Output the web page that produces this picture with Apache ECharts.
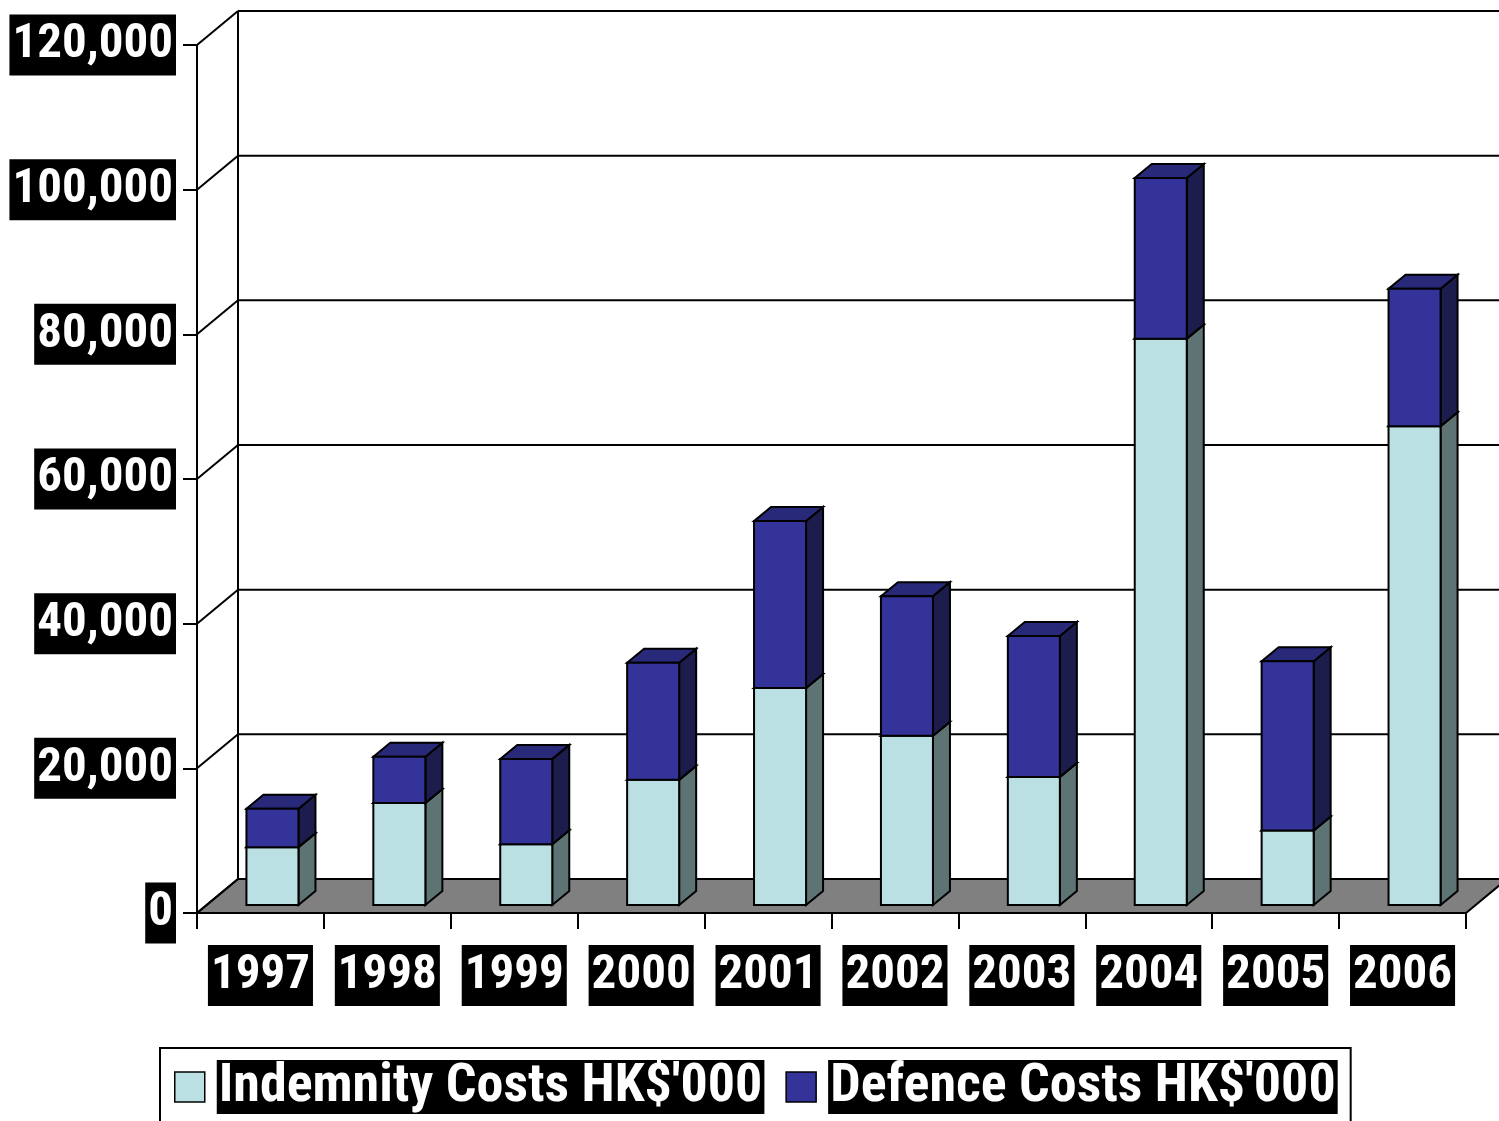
<!DOCTYPE html>
<html>
<head>
<meta charset="utf-8">
<script src="https://cdn.jsdelivr.net/npm/echarts@6/dist/echarts.min.js"></script>
<style>
html,body{margin:0;padding:0;background:#fff;}
#chart{width:1499px;height:1121px;}
</style>
</head>
<body>
<div id="chart"></div>
<script>
const categories = ['1997','1998','1999','2000','2001','2002','2003','2004','2005','2006'];
const indemnity = [8000, 14100, 8400, 17300, 30000, 23400, 17700, 78300, 10300, 66200];
const defence   = [5300, 6400, 11800, 16200, 23100, 19300, 19500, 22200, 23400, 19000];
const yTicks = [0, 20000, 40000, 60000, 80000, 100000, 120000];
const seriesNames = ["Indemnity Costs HK$'000", "Defence Costs HK$'000"];

const FONT = "'Roboto Condensed', 'Liberation Sans Narrow', 'Liberation Sans', sans-serif";
const DX = 41, DY = 34;               // depth of the 3D box (back wall offset)
const BAR_SHIFT_X = 12, BAR_SHIFT_Y = 8;
const BAR_DX = 17, BAR_DY = 14, BAR_W_RATIO = 0.41;

const palette = {
  ind: {front: '#BAE0E3', side: '#5E7373', top: '#94B3B6'},
  def: {front: '#333399', side: '#1C1C4D', top: '#29297A'}
};

function barRenderer(colors) {
  return function (params, api) {
    const i = api.value(0), lo = api.value(1), hi = api.value(2);
    const band = api.size([1, 0])[0];
    const pLo = api.coord([i, lo]), pHi = api.coord([i, hi]);
    const w = band * BAR_W_RATIO;
    const x0 = pLo[0] + BAR_SHIFT_X - w / 2, x1 = x0 + w;
    const yb = pLo[1] - BAR_SHIFT_Y, yt = pHi[1] - BAR_SHIFT_Y;
    const st = {stroke: '#000', lineWidth: 2, lineJoin: 'miter'};
    return {
      type: 'group',
      children: [
        {type: 'polygon', shape: {points: [[x1, yb], [x1 + BAR_DX, yb - BAR_DY], [x1 + BAR_DX, yt - BAR_DY], [x1, yt]]},
         style: Object.assign({fill: colors.side}, st)},
        {type: 'polygon', shape: {points: [[x0, yt], [x1, yt], [x1 + BAR_DX, yt - BAR_DY], [x0 + BAR_DX, yt - BAR_DY]]},
         style: Object.assign({fill: colors.top}, st)},
        {type: 'rect', shape: {x: x0, y: yt, width: w, height: yb - yt},
         style: Object.assign({fill: colors.front}, st)}
      ]
    };
  };
}

function wallRenderer(params, api) {
  const cs = params.coordSys;
  const v = api.value(1);
  const y = api.coord([0, v])[1];
  const xl = cs.x, xr = cs.x + cs.width;
  const ln = {stroke: '#000', lineWidth: 2};
  const children = [];
  if (v === 0) {
    children.push({type: 'polygon', shape: {points: [[xl, y], [xr, y], [xr + DX, y - DY], [xl + DX, y - DY]]},
      style: {fill: '#808080', stroke: '#000', lineWidth: 2}});
    children.push({type: 'line', shape: {x1: xl + DX, y1: y - DY, x2: xl + DX, y2: cs.y - DY}, style: ln});
  }
  children.push({type: 'line', shape: {x1: xl, y1: y, x2: xl + DX, y2: y - DY}, style: ln});
  children.push({type: 'line', shape: {x1: xl + DX, y1: y - DY, x2: xr + DX, y2: y - DY}, style: ln});
  return {type: 'group', children: children};
}

const wallData = yTicks.map(v => [0, v]);
const indData = categories.map((c, i) => [i, 0, indemnity[i]]);
const defData = categories.map((c, i) => [i, indemnity[i], indemnity[i] + defence[i]]);

const labelBox = {
  color: '#fff', backgroundColor: '#000', fontFamily: FONT, fontWeight: 'bold',
  fontSize: 49, lineHeight: 61, padding: [0, 3]
};

const chart = echarts.init(document.getElementById('chart'), null, {renderer: 'canvas'});
chart.setOption({
  animation: false,
  backgroundColor: '#fff',
  grid: {left: 197, top: 45, width: 1269, height: 868, containLabel: false, outerBoundsMode: 'none'},
  xAxis: {
    type: 'category', data: categories, boundaryGap: true,
    axisLine: {show: true, lineStyle: {color: '#000', width: 2}},
    axisTick: {show: true, interval: 0, length: 16, lineStyle: {color: '#000', width: 2}},
    axisLabel: Object.assign({margin: 32, interval: 0}, labelBox),
    splitLine: {show: false}
  },
  yAxis: {
    type: 'value', min: 0, max: 120000, interval: 20000,
    axisLine: {show: true, lineStyle: {color: '#000', width: 2}},
    axisTick: {show: true, length: 14, lineStyle: {color: '#000', width: 2}},
    axisLabel: Object.assign({margin: 21, formatter: v => v.toLocaleString('en-US')}, labelBox),
    splitLine: {show: false}
  },
  legend: {
    data: seriesNames,
    left: 160, top: 1048,
    padding: [12, 13, 12, 14],
    borderColor: '#000', borderWidth: 2, backgroundColor: '#fff',
    itemGap: 21, itemWidth: 30, itemHeight: 30,
    icon: 'rect',
    itemStyle: {borderColor: '#000', borderWidth: 1.5},
    formatter: name => '{g|}{t|' + name + '}',
    textStyle: {
      rich: {
        g: {width: 7},
        t: {color: '#fff', backgroundColor: '#000', fontFamily: FONT, fontWeight: 'bold',
            fontSize: 54, lineHeight: 61, padding: [0, 2]}
      }
    }
  },
  series: [
    {type: 'custom', name: 'wall', renderItem: wallRenderer, data: wallData, encode: {x: 0, y: 1}, silent: true, z: 1},
    {type: 'custom', name: seriesNames[0], renderItem: barRenderer(palette.ind), data: indData,
     encode: {x: 0, y: [1, 2]}, itemStyle: {color: palette.ind.front}, z: 3},
    {type: 'custom', name: seriesNames[1], renderItem: barRenderer(palette.def), data: defData,
     encode: {x: 0, y: [1, 2]}, itemStyle: {color: palette.def.front}, z: 3}
  ]
});
</script>
</body>
</html>
